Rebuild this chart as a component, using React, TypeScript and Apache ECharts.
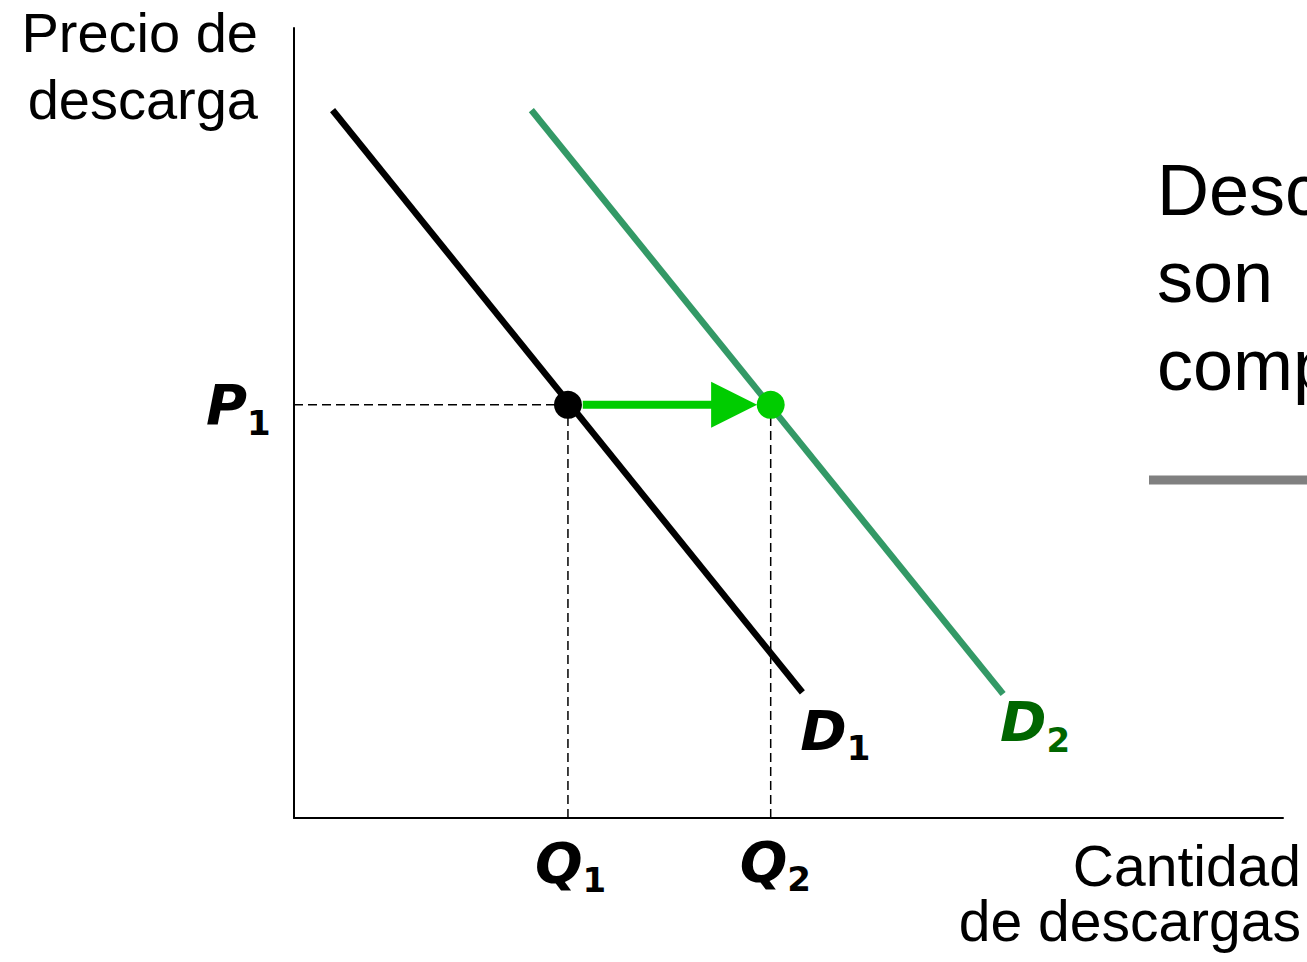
import React, { useEffect, useRef } from "react";
import * as echarts from "echarts";

// Data (arbitrary units: quantity 0..100, price 0..100)
const xRange = [0, 100];
const yRange = [0, 100];
const demand1 = [
  [3.9, 89.6],
  [51.4, 15.9],
];
const demand2 = [
  [24.0, 89.6],
  [71.7, 15.7],
];
const P1 = 52.3;
const Q1 = 27.7;
const Q2 = 48.2;
const arrowStart = 29.2;
const arrowHeadCenter = 44.5;

const yTitle = ["Precio de", "descarga"];
const xTitle = ["Cantidad", "de descargas"];
const sideText = ["Desc", "son", "comp"];

export default function App() {
  const ref = useRef<HTMLDivElement>(null);
  useEffect(() => {
    if (!ref.current) return;
    const chart = echarts.init(ref.current, null, { renderer: "svg" });
    const dash = { color: "#000", width: 1.5, type: [9, 5] as any };
    chart.setOption({
      animation: false,
      backgroundColor: "#fff",
      grid: { left: 294, top: 28, right: 24, bottom: 144 },
      xAxis: {
        type: "value",
        min: xRange[0],
        max: xRange[1],
        axisLine: { show: true, lineStyle: { color: "#000", width: 2 } },
        axisTick: { show: false },
        axisLabel: { show: false },
        splitLine: { show: false },
      },
      yAxis: {
        type: "value",
        min: yRange[0],
        max: yRange[1],
        axisLine: { show: true, lineStyle: { color: "#000", width: 2 } },
        axisTick: { show: false },
        axisLabel: { show: false },
        splitLine: { show: false },
      },
      series: [
        {
          type: "line",
          data: [
            [0, P1],
            [Q1, P1],
          ],
          symbol: "none",
          lineStyle: dash,
          z: 1,
        },
        {
          type: "line",
          data: [
            [Q1, 0],
            [Q1, P1],
          ],
          symbol: "none",
          lineStyle: dash,
          z: 1,
        },
        {
          type: "line",
          data: [
            [Q2, 0],
            [Q2, P1],
          ],
          symbol: "none",
          lineStyle: dash,
          z: 1,
        },
        {
          type: "line",
          data: demand1,
          symbol: "none",
          lineStyle: { color: "#000", width: 6.5 },
          z: 2,
        },
        {
          type: "line",
          data: demand2,
          symbol: "none",
          lineStyle: { color: "#339966", width: 6.5 },
          z: 2,
        },
        {
          type: "line",
          data: [
            { value: [arrowStart, P1], symbol: "none" },
            {
              value: [arrowHeadCenter, P1],
              symbol: "triangle",
              symbolRotate: -90,
              symbolSize: [46, 46],
            },
          ],
          showSymbol: true,
          lineStyle: { color: "#00cc00", width: 8 },
          itemStyle: { color: "#00cc00", opacity: 1 },
          z: 3,
        },
        {
          type: "scatter",
          data: [[Q1, P1]],
          symbolSize: 28,
          itemStyle: { color: "#000", opacity: 1 },
          z: 4,
        },
        {
          type: "scatter",
          data: [[Q2, P1]],
          symbolSize: 28,
          itemStyle: { color: "#00cc00", opacity: 1 },
          z: 4,
        },
      ],
    });

    const px = (p: number[]) => chart.convertToPixel({ gridIndex: 0 }, p) as number[];
    const labels = [
      { main: "P", sub: "1", anchor: [0, P1], m: [-88, 0], color: "#000" },
      { main: "D", sub: "1", anchor: demand1[1], m: [-2, 38], color: "#000" },
      { main: "D", sub: "2", anchor: demand2[1], m: [-3, 28], color: "#006600" },
      { main: "Q", sub: "1", anchor: [Q1, 0], m: [-33, 44], color: "#000" },
      { main: "Q", sub: "2", anchor: [Q2, 0], m: [-31, 43], color: "#000" },
    ];
    const graphics: any[] = [];
    labels.forEach((l) => {
      const [ax, ay] = px(l.anchor);
      graphics.push({
        type: "text",
        x: ax + l.m[0],
        y: ay + l.m[1],
        style: {
          text: `{m|${l.main}}{s|${l.sub}}`,
          fill: l.color,
          align: "left",
          verticalAlign: "middle",
          rich: {
            m: {
              fontFamily: "DejaVu Sans",
              fontWeight: "bold",
              fontStyle: "italic",
              fontSize: 56,
              lineHeight: 70,
              fill: l.color,
              verticalAlign: "middle",
            },
            s: {
              fontFamily: "DejaVu Sans",
              fontWeight: "bold",
              fontSize: 34,
              lineHeight: 27,
              fill: l.color,
              verticalAlign: "bottom",
            },
          },
        },
      });
    });
    const titleFont = { fontFamily: "Liberation Sans, Arial", fill: "#000" };
    graphics.push(
      {
        type: "text",
        x: 258,
        y: 66,
        style: { text: yTitle.join("\n"), ...titleFont, fontSize: 56, lineHeight: 67, align: "right", verticalAlign: "middle" },
      },
      {
        type: "text",
        x: 1301,
        y: 893,
        style: { text: xTitle.join("\n"), ...titleFont, fontSize: 57, lineHeight: 55, align: "right", verticalAlign: "middle" },
      }
    );
    const sideY = [190, 277, 365];
    sideText.forEach((t, i) => {
      graphics.push({
        type: "text",
        x: 1157,
        y: sideY[i],
        style: { text: t, fontFamily: "Liberation Sans, Arial", fontSize: 72, fill: "#000", align: "left", verticalAlign: "middle" },
      });
    });
    graphics.push({
      type: "line",
      shape: { x1: 1149, y1: 480, x2: 1320, y2: 480 },
      style: { stroke: "#808080", lineWidth: 9 },
    });
    chart.setOption({ graphic: graphics });
    return () => chart.dispose();
  }, []);
  return (
    <div
      ref={ref}
      style={{ position: "fixed", left: 0, top: 0, width: 1307, height: 962 }}
    />
  );
}
